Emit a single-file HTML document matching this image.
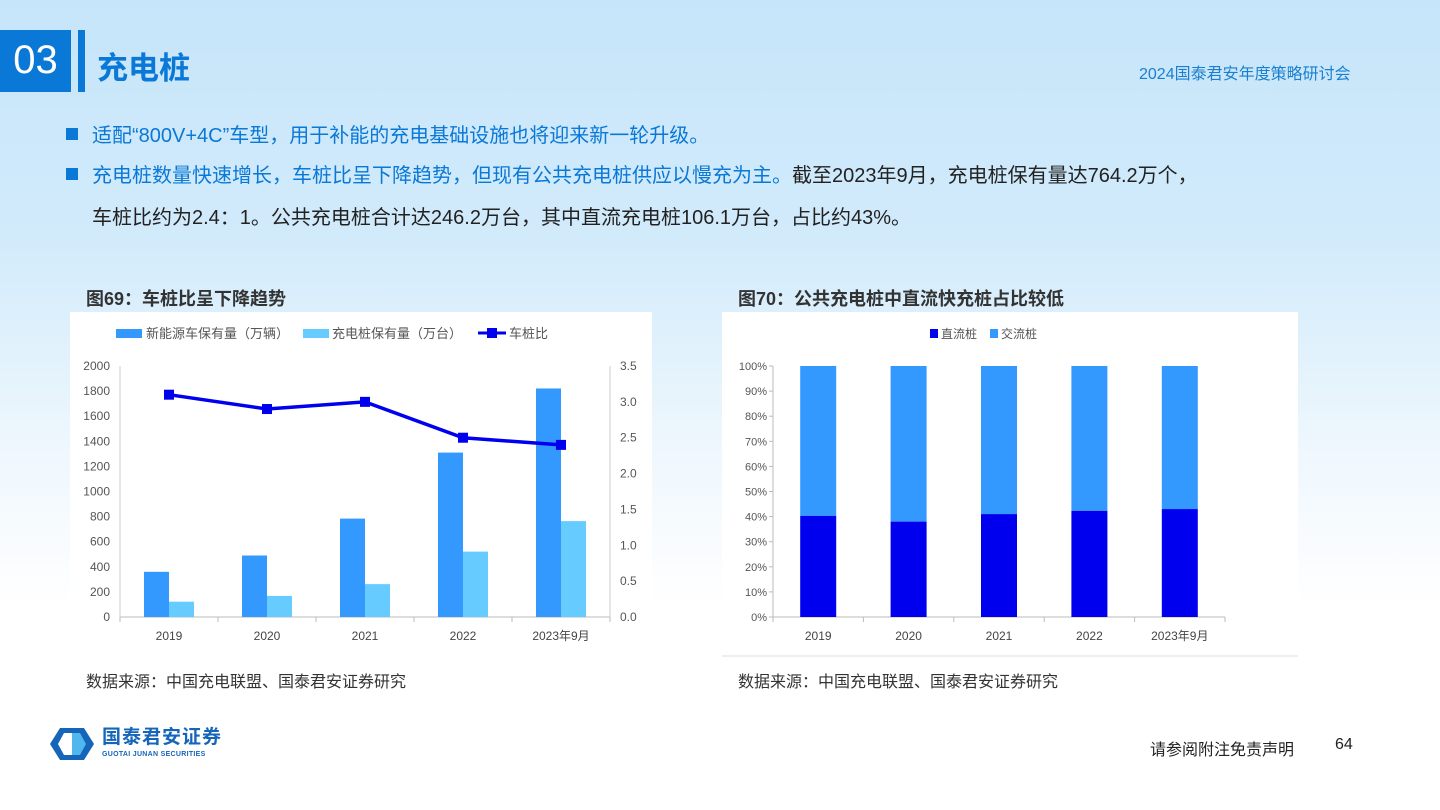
<!DOCTYPE html>
<html><head><meta charset="utf-8">
<style>
body{margin:0;width:1440px;height:810px;overflow:hidden;font-family:"Liberation Sans","Noto Sans CJK SC",sans-serif;}
#bg{position:absolute;left:0;top:0;width:1440px;height:810px;background:linear-gradient(180deg,#c6e5fa 0%,#d2ebfb 30%,#eef7fd 55%,#ffffff 75%);}
.abs{position:absolute;}
svg text{font-family:"Liberation Sans","Noto Sans CJK SC",sans-serif;}
</style></head><body>
<div id="bg"></div>
<div class="abs" style="left:0;top:30px;width:71px;height:62px;background:#0a78d6;color:#fff;font-size:40px;line-height:60px;text-align:center;">03</div>
<div class="abs" style="left:78px;top:30px;width:7px;height:62px;background:#0a78d6;"></div>
<div class="abs" style="left:97px;top:43px;font-size:31px;font-weight:bold;color:#0a78d6;">充电桩</div>
<div class="abs" style="left:1139px;top:60px;font-size:16px;color:#1a7fd0;">2024国泰君安年度策略研讨会</div>

<div class="abs" style="left:66px;top:119px;font-size:20px;color:#0a78d6;"><span style="display:inline-block;width:12px;height:12px;background:#0a78d6;margin-right:14px;vertical-align:2px"></span>适配“800V+4C”车型，用于补能的充电基础设施也将迎来新一轮升级。</div>
<div class="abs" style="left:66px;top:159px;font-size:20px;color:#222;white-space:nowrap;"><span style="display:inline-block;width:12px;height:12px;background:#0a78d6;margin-right:14px;vertical-align:2px"></span><span style="color:#0a78d6">充电桩数量快速增长，车桩比呈下降趋势，但现有公共充电桩供应以慢充为主。</span>截至2023年9月，充电桩保有量达764.2万个，</div>
<div class="abs" style="left:92px;top:201px;font-size:20px;color:#222;">车桩比约为2.4：1。公共充电桩合计达246.2万台，其中直流充电桩106.1万台，占比约43%。</div>

<div class="abs" style="left:86px;top:285px;font-size:18px;font-weight:bold;color:#333;">图69：车桩比呈下降趋势</div>
<div class="abs" style="left:738px;top:285px;font-size:18px;font-weight:bold;color:#333;">图70：公共充电桩中直流快充桩占比较低</div>

<svg class="abs" style="left:0;top:0" width="1440" height="810" id="charts">
<rect x="70" y="312" width="582" height="340" fill="#fff"/>
<rect x="722" y="312" width="576" height="344" fill="#fff"/>
<line x1="722" y1="656" x2="1298" y2="656" stroke="#ddd"/>
<g id="c1"></g><g id="c2"></g>
</svg>

<div class="abs" style="left:86px;top:668px;font-size:16px;color:#333;">数据来源：中国充电联盟、国泰君安证券研究</div>
<div class="abs" style="left:738px;top:668px;font-size:16px;color:#333;">数据来源：中国充电联盟、国泰君安证券研究</div>

<svg class="abs" style="left:50px;top:728px" width="44" height="32">
<polygon points="10,0 34,0 44,16 34,32 10,32 0,16" fill="#1565b8"/>
<polygon points="14,5 22,5 22,27 14,27 8,16" fill="#fff"/>
<polygon points="22,5 30,5 36,16 30,27 22,27" fill="#4fb6ee"/>
</svg>
<div class="abs" style="left:102px;top:727px;font-size:19px;line-height:22px;font-weight:bold;color:#1565b8;letter-spacing:1px;">国泰君安证券</div>
<div class="abs" style="left:102px;top:751px;font-size:7px;line-height:8px;font-weight:bold;color:#1565b8;letter-spacing:0.3px;">GUOTAI JUNAN SECURITIES</div>
<div class="abs" style="left:1150px;top:736px;font-size:16px;color:#222;">请参阅附注免责声明</div>
<div class="abs" style="left:1335px;top:736px;font-size:16px;color:#222;">64</div>

<script>
const categories=["2019","2020","2021","2022","2023年9月"];
const nevValues=[360,490,784,1310,1821];
const pileValues=[122,168,262,521,764];
const ratioValues=[3.1,2.9,3.0,2.5,2.4];
const leftTicks=[0,200,400,600,800,1000,1200,1400,1600,1800,2000];
const rightTicks=["0.0","0.5","1.0","1.5","2.0","2.5","3.0","3.5"];
const dcShare=[40.3,38.0,41.0,42.3,43.0];
const pctTicks=["0%","10%","20%","30%","40%","50%","60%","70%","80%","90%","100%"];

const NS="http://www.w3.org/2000/svg";
function mk(p,t,a,txt){const e=document.createElementNS(NS,t);for(const k in a)e.setAttribute(k,a[k]);if(txt!==undefined)e.textContent=txt;p.appendChild(e);return e;}

// chart 1
const c1=document.getElementById('c1');
const X0=120,X1=610,Y0=617,Y1=366;
const bw=(X1-X0)/categories.length;
const yL=v=>Y0-(v/2000)*(Y0-Y1);
const yR=v=>Y0-(v/3.5)*(Y0-Y1);
const xc=i=>X0+bw*(i+0.5);
let el;
el=mk(c1,'line',{x1:X0,y1:Y0,x2:X1,y2:Y0,stroke:'#bbb'});
el=mk(c1,'line',{x1:X0,y1:Y1,x2:X0,y2:Y0,stroke:'#ccc'});
el=mk(c1,'line',{x1:X1,y1:Y1,x2:X1,y2:Y0,stroke:'#ccc'});
leftTicks.forEach(v=>{el=mk(c1,'text',{x:X0-10,y:yL(v)+4,'text-anchor':'end','font-size':12,fill:'#555'},v);});
rightTicks.forEach(v=>{el=mk(c1,'text',{x:X1+10,y:yR(+v)+4,'font-size':12,fill:'#555'},v);});
for(let i=0;i<=categories.length;i++){mk(c1,'line',{x1:X0+bw*i,y1:Y0,x2:X0+bw*i,y2:Y0+5,stroke:'#bbb'});}
categories.forEach((c,i)=>{
 el=mk(c1,'rect',{x:xc(i)-25,y:yL(nevValues[i]),width:25,height:Y0-yL(nevValues[i]),fill:'#3399ff'});
 
 el=mk(c1,'rect',{x:xc(i),y:yL(pileValues[i]),width:25,height:Y0-yL(pileValues[i]),fill:'#66ccff'});
 
 el=mk(c1,'text',{x:xc(i),y:640,'text-anchor':'middle','font-size':12,fill:'#444'},c);
 
});
el=mk(c1,'polyline',{points:ratioValues.map((v,i)=>xc(i)+','+yR(v)).join(' '),fill:'none',stroke:'#0000ee','stroke-width':3.5});

ratioValues.forEach((v,i)=>{el=mk(c1,'rect',{x:xc(i)-5,y:yR(v)-5,width:10,height:10,fill:'#0000ee'});});
// legend
el=mk(c1,'rect',{x:116,y:329,width:26,height:9,fill:'#3399ff'});
mk(c1,'text',{x:146,y:338,'font-size':13,fill:'#555'},'新能源车保有量（万辆）');
el=mk(c1,'rect',{x:303,y:329,width:26,height:9,fill:'#66ccff'});
mk(c1,'text',{x:332,y:338,'font-size':13,fill:'#555'},'充电桩保有量（万台）');
mk(c1,'line',{x1:478,y1:333,x2:506,y2:333,stroke:'#0000ee','stroke-width':3});
mk(c1,'rect',{x:487,y:328,width:10,height:10,fill:'#0000ee'});
mk(c1,'text',{x:509,y:338,'font-size':13,fill:'#555'},'车桩比');

// chart 2
const c2=document.getElementById('c2');
const P0=773,P1=1225;
const pw=(P1-P0)/categories.length;
const yP=v=>Y0-(v/100)*(Y0-Y1);
const pc=i=>P0+pw*(i+0.5);
mk(c2,'line',{x1:P0,y1:Y0,x2:P1,y2:Y0,stroke:'#bbb'});
mk(c2,'line',{x1:P0,y1:Y1,x2:P0,y2:Y0,stroke:'#bbb'});
pctTicks.forEach((t,i)=>{const y=yP(i*10);mk(c2,'line',{x1:P0-4,y1:y,x2:P0,y2:y,stroke:'#bbb'});el=mk(c2,'text',{x:P0-6,y:y+4,'text-anchor':'end','font-size':11,fill:'#555'},t);});
for(let i=0;i<=categories.length;i++){mk(c2,'line',{x1:P0+pw*i,y1:Y0,x2:P0+pw*i,y2:Y0+5,stroke:'#bbb'});}
categories.forEach((c,i)=>{
 el=mk(c2,'rect',{x:pc(i)-18,y:yP(100),width:36,height:yP(dcShare[i])-yP(100),fill:'#3399ff'});
 
 el=mk(c2,'rect',{x:pc(i)-18,y:yP(dcShare[i]),width:36,height:Y0-yP(dcShare[i]),fill:'#0000ee'});
 
 el=mk(c2,'text',{x:pc(i),y:640,'text-anchor':'middle','font-size':12,fill:'#444'},c);
 
});
mk(c2,'rect',{x:930,y:329,width:8,height:9,fill:'#0000ee'});
mk(c2,'text',{x:941,y:338,'font-size':12,fill:'#555'},'直流桩');
mk(c2,'rect',{x:990,y:329,width:8,height:9,fill:'#3399ff'});
mk(c2,'text',{x:1001,y:338,'font-size':12,fill:'#555'},'交流桩');
</script>
</body></html>
